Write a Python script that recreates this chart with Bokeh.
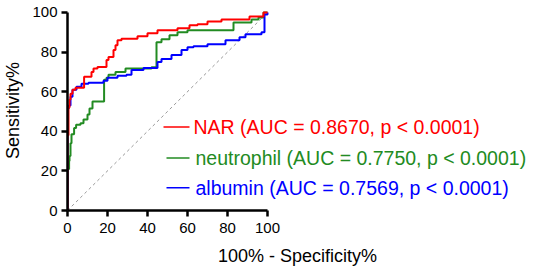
from bokeh.plotting import figure
from bokeh.models import Range1d, FixedTicker, Label
from bokeh.embed import file_html
from bokeh.resources import INLINE

# ROC data: (1 - specificity)% and sensitivity%, step corners
nar_fpr = [0, 0, 0.5, 1, 1.5, 2.5, 4, 8.3, 12, 13, 15, 19.5, 20.5, 23, 24, 25, 27, 35, 40, 45, 55, 61, 65, 70, 77, 91, 98, 100]
nar_sens = [0, 38, 52, 56, 59, 61, 62, 67.5, 70, 71.7, 72.5, 76, 77.5, 81, 83.5, 86, 86.7, 88, 89.5, 91, 92, 93.5, 94, 95.5, 96.5, 98, 100, 100]

neu_fpr = [0, 0, 0.8, 1, 1.5, 2, 3.3, 4.3, 6.5, 8, 10, 11, 12.5, 18.3, 19.5, 20.5, 24, 29, 42, 44.5, 47, 51, 55, 60, 83, 92, 95.5, 98, 100]
neu_sens = [0, 21, 25, 27.5, 34, 38.5, 41.7, 43.3, 44, 46, 48.5, 51.5, 55, 66, 67, 68.5, 70, 71.7, 72.3, 85, 86.5, 88.5, 90, 91, 95, 96.5, 97.5, 100, 100]

alb_fpr = [0, 0, 0.7, 1.5, 2.5, 4.5, 7, 10.5, 18, 20, 25, 29.5, 32, 38, 45, 47, 52, 57, 60, 63, 70, 79, 86, 89, 97, 98.5, 100]
alb_sens = [0, 51.5, 53, 57.5, 61, 62.5, 64, 64.5, 65.5, 67, 68, 68.5, 71, 72, 75, 76.5, 78.5, 81, 82.5, 83, 84, 86, 87.5, 89, 90, 99, 100]

ref_x = [0, 100]
ref_y = [0, 100]

ticks = [0, 20, 40, 60, 80, 100]
labels = ["NAR (AUC = 0.8670, p < 0.0001)",
          "neutrophil (AUC = 0.7750, p < 0.0001)",
          "albumin (AUC = 0.7569, p < 0.0001)"]
colors = ["#FF0000", "#228B22", "#0000FF"]

FONT = "Liberation Sans"

p = figure(frame_width=460, frame_height=200, output_backend="svg", toolbar_location=None,
           x_range=Range1d(0, 230), y_range=Range1d(0, 101),
           min_border_left=58, min_border_right=0, min_border_top=10, min_border_bottom=50)
p.outline_line_color = None
p.grid.visible = False
p.background_fill_color = "white"

for ax in (p.xaxis[0], p.yaxis[0]):
    ax.bounds = (0, 100)
    ax.ticker = FixedTicker(ticks=ticks)
    ax.axis_line_width = 2.5
    ax.axis_line_color = "black"
    ax.major_tick_line_width = 2.5
    ax.major_tick_out = 6
    ax.major_tick_in = 0
    ax.minor_tick_out = 0
    ax.minor_tick_in = 0
    ax.major_label_text_font = FONT
    ax.major_label_text_font_size = "15px"
    ax.major_label_text_color = "black"
    ax.axis_label_text_font = FONT
    ax.axis_label_text_font_size = "18px"
    ax.axis_label_text_font_style = "normal"
    ax.axis_label_text_color = "black"
    ax.major_label_standoff = 4

p.xaxis.major_label_standoff = 6
p.xaxis.axis_label = "100% - Specificity%"
p.yaxis.axis_label = "Sensitivity%"
p.xaxis.axis_label_standoff = 10
p.yaxis.axis_label_standoff = 6

p.line(ref_x, ref_y, line_color="#999999", line_width=1, line_dash="3 3")

for xs, ys, c in [(neu_fpr, neu_sens, colors[1]), (alb_fpr, alb_sens, colors[2]), (nar_fpr, nar_sens, colors[0])]:
    p.step(xs, ys, mode="after", line_color=c, line_width=2)

# legend
leg_y = [42.2, 26.5, 11.5]
leg_x0 = [48, 49.5, 49.5]
for i in range(3):
    p.segment(x0=[leg_x0[i]], y0=[leg_y[i]], x1=[61], y1=[leg_y[i]], line_color=colors[i], line_width=1.5)
    p.add_layout(Label(x=63 if i == 0 else 64, y=leg_y[i], text=labels[i], text_color=colors[i],
                       text_font=FONT, text_font_size="19.5px", text_baseline="middle"))

open("out.html", "w").write(file_html(p, INLINE))
